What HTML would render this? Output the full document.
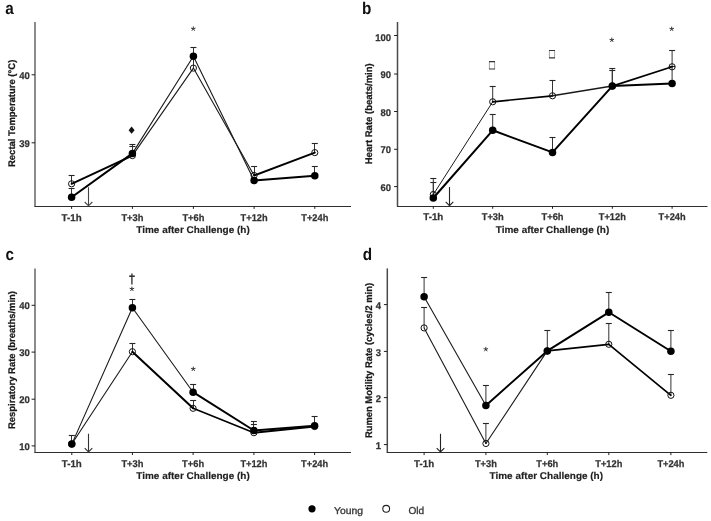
<!DOCTYPE html>
<html><head><meta charset="utf-8"><style>
html,body{margin:0;padding:0;background:#fff;}
body{width:711px;height:521px;overflow:hidden;font-family:"Liberation Sans", sans-serif;}
svg{display:block;filter:grayscale(1);}
</style></head><body>
<svg width="711" height="521" viewBox="0 0 711 521" text-rendering="geometricPrecision" font-family='"Liberation Sans", sans-serif'>
<rect width="711" height="521" fill="#fff"/>
<text x="5.20" y="13.80" font-size="17" font-weight="bold" text-anchor="start" fill="#111" textLength="8.51" lengthAdjust="spacingAndGlyphs" >a</text>
<path d="M35.00 22.00V206.30" fill="none" stroke="#6e6e6e" stroke-width="1.6"/>
<path d="M34.40 206.50H351.00" fill="none" stroke="#2e2e2e" stroke-width="1.2"/>
<path d="M31.60 74.80H35.00" stroke="#1e1e1e" stroke-width="1"/>
<text x="29.90" y="78.80" font-size="9.8" font-weight="bold" text-anchor="end" fill="#333" textLength="10.57" lengthAdjust="spacingAndGlyphs" stroke="#333" stroke-width="0.25">40</text>
<path d="M31.60 142.80H35.00" stroke="#1e1e1e" stroke-width="1"/>
<text x="29.90" y="146.80" font-size="9.8" font-weight="bold" text-anchor="end" fill="#333" textLength="10.57" lengthAdjust="spacingAndGlyphs" stroke="#333" stroke-width="0.25">39</text>
<path d="M71.60 206.30V208.90" stroke="#1e1e1e" stroke-width="1"/>
<text x="71.60" y="220.50" font-size="9.8" font-weight="bold" text-anchor="middle" fill="#333" textLength="20.0" lengthAdjust="spacingAndGlyphs" stroke="#333" stroke-width="0.25">T-1h</text>
<path d="M132.40 206.30V208.90" stroke="#1e1e1e" stroke-width="1"/>
<text x="132.40" y="220.50" font-size="9.8" font-weight="bold" text-anchor="middle" fill="#333" textLength="22.0" lengthAdjust="spacingAndGlyphs" stroke="#333" stroke-width="0.25">T+3h</text>
<path d="M193.40 206.30V208.90" stroke="#1e1e1e" stroke-width="1"/>
<text x="193.40" y="220.50" font-size="9.8" font-weight="bold" text-anchor="middle" fill="#333" textLength="22.0" lengthAdjust="spacingAndGlyphs" stroke="#333" stroke-width="0.25">T+6h</text>
<path d="M254.10 206.30V208.90" stroke="#1e1e1e" stroke-width="1"/>
<text x="254.10" y="220.50" font-size="9.8" font-weight="bold" text-anchor="middle" fill="#333" textLength="27.0" lengthAdjust="spacingAndGlyphs" stroke="#333" stroke-width="0.25">T+12h</text>
<path d="M314.80 206.30V208.90" stroke="#1e1e1e" stroke-width="1"/>
<text x="314.80" y="220.50" font-size="9.8" font-weight="bold" text-anchor="middle" fill="#333" textLength="27.0" lengthAdjust="spacingAndGlyphs" stroke="#333" stroke-width="0.25">T+24h</text>
<text x="193.00" y="233.00" font-size="9.8" font-weight="bold" text-anchor="middle" fill="#222" textLength="113.5" lengthAdjust="spacingAndGlyphs" stroke="#222" stroke-width="0.15">Time after Challenge (h)</text>
<text x="15.00" y="113.35" font-size="9.6" font-weight="bold" text-anchor="middle" fill="#1a1a1a" textLength="107.3" lengthAdjust="spacingAndGlyphs" transform="rotate(-90 15.00 113.35)" stroke="#1a1a1a" stroke-width="0.25">Rectal Temperature (°C)</text>
<path d="M88.50 187.30V205.80M84.70 202.00L88.50 205.80L92.30 202.00" fill="none" stroke="#444" stroke-width="1.1"/>
<path d="M71.50 197.20V188.50" fill="none" stroke="#333" stroke-width="1"/>
<path d="M68.60 188.50H74.60" fill="none" stroke="#262626" stroke-width="1.1"/>
<path d="M71.50 183.80V175.50" fill="none" stroke="#333" stroke-width="1"/>
<path d="M68.60 175.50H74.60" fill="none" stroke="#262626" stroke-width="1.1"/>
<path d="M132.50 153.40V146.50" fill="none" stroke="#333" stroke-width="1"/>
<path d="M129.40 146.50H135.40" fill="none" stroke="#262626" stroke-width="1.1"/>
<path d="M132.50 155.60V144.50" fill="none" stroke="#333" stroke-width="1"/>
<path d="M129.40 144.50H135.40" fill="none" stroke="#262626" stroke-width="1.1"/>
<path d="M193.50 56.30V47.50" fill="none" stroke="#333" stroke-width="1"/>
<path d="M190.40 47.50H196.40" fill="none" stroke="#262626" stroke-width="1.1"/>
<path d="M193.50 68.10V57.50" fill="none" stroke="#333" stroke-width="1"/>
<path d="M190.40 57.50H196.40" fill="none" stroke="#262626" stroke-width="1.1"/>
<path d="M254.50 175.50V166.50" fill="none" stroke="#333" stroke-width="1"/>
<path d="M251.10 166.50H257.10" fill="none" stroke="#262626" stroke-width="1.1"/>
<path d="M314.50 175.70V166.50" fill="none" stroke="#333" stroke-width="1"/>
<path d="M311.80 166.50H317.80" fill="none" stroke="#262626" stroke-width="1.1"/>
<path d="M314.50 152.60V143.50" fill="none" stroke="#333" stroke-width="1"/>
<path d="M311.80 143.50H317.80" fill="none" stroke="#262626" stroke-width="1.1"/>
<line x1="71.60" y1="183.80" x2="132.40" y2="155.60" stroke="#000" stroke-width="1.9" stroke-linecap="round"/>
<line x1="71.60" y1="197.20" x2="132.40" y2="153.40" stroke="#000" stroke-width="2.0" stroke-linecap="round"/>
<line x1="132.40" y1="155.60" x2="193.40" y2="68.10" stroke="#1a1a1a" stroke-width="1.1" stroke-linecap="round"/>
<line x1="132.40" y1="153.40" x2="193.40" y2="56.30" stroke="#1a1a1a" stroke-width="1.1" stroke-linecap="round"/>
<line x1="193.40" y1="68.10" x2="254.10" y2="175.50" stroke="#1a1a1a" stroke-width="1.1" stroke-linecap="round"/>
<line x1="193.40" y1="56.30" x2="254.10" y2="180.50" stroke="#1a1a1a" stroke-width="1.1" stroke-linecap="round"/>
<line x1="254.10" y1="175.50" x2="314.80" y2="152.60" stroke="#000" stroke-width="1.9" stroke-linecap="round"/>
<line x1="254.10" y1="180.50" x2="314.80" y2="175.70" stroke="#000" stroke-width="2.0" stroke-linecap="round"/>
<circle cx="71.60" cy="183.80" r="3.1" fill="none" stroke="#111" stroke-width="1"/>
<circle cx="71.60" cy="197.20" r="3.75" fill="#000"/>
<circle cx="132.40" cy="155.60" r="3.1" fill="none" stroke="#111" stroke-width="1"/>
<circle cx="132.40" cy="153.40" r="3.75" fill="#000"/>
<circle cx="193.40" cy="68.10" r="3.1" fill="none" stroke="#111" stroke-width="1"/>
<circle cx="193.40" cy="56.30" r="3.75" fill="#000"/>
<circle cx="254.10" cy="175.50" r="3.1" fill="none" stroke="#111" stroke-width="1"/>
<circle cx="254.10" cy="180.50" r="3.75" fill="#000"/>
<circle cx="314.80" cy="152.60" r="3.1" fill="none" stroke="#111" stroke-width="1"/>
<circle cx="314.80" cy="175.70" r="3.75" fill="#000"/>
<text x="362.00" y="13.80" font-size="17" font-weight="bold" text-anchor="start" fill="#111" textLength="9.35" lengthAdjust="spacingAndGlyphs" >b</text>
<path d="M397.50 22.00V206.20" fill="none" stroke="#4a4a4a" stroke-width="1.5"/>
<path d="M396.90 206.50H707.50" fill="none" stroke="#2e2e2e" stroke-width="1.2"/>
<path d="M394.10 35.50H397.50" stroke="#1e1e1e" stroke-width="1"/>
<text x="391.10" y="40.50" font-size="9.8" font-weight="bold" text-anchor="end" fill="#333" textLength="15.86" lengthAdjust="spacingAndGlyphs" stroke="#333" stroke-width="0.25">100</text>
<path d="M394.10 74.00H397.50" stroke="#1e1e1e" stroke-width="1"/>
<text x="391.10" y="78.00" font-size="9.8" font-weight="bold" text-anchor="end" fill="#333" textLength="10.57" lengthAdjust="spacingAndGlyphs" stroke="#333" stroke-width="0.25">90</text>
<path d="M394.10 111.50H397.50" stroke="#1e1e1e" stroke-width="1"/>
<text x="391.10" y="115.50" font-size="9.8" font-weight="bold" text-anchor="end" fill="#333" textLength="10.57" lengthAdjust="spacingAndGlyphs" stroke="#333" stroke-width="0.25">80</text>
<path d="M394.10 149.30H397.50" stroke="#1e1e1e" stroke-width="1"/>
<text x="391.10" y="153.30" font-size="9.8" font-weight="bold" text-anchor="end" fill="#333" textLength="10.57" lengthAdjust="spacingAndGlyphs" stroke="#333" stroke-width="0.25">70</text>
<path d="M394.10 186.60H397.50" stroke="#1e1e1e" stroke-width="1"/>
<text x="391.10" y="190.60" font-size="9.8" font-weight="bold" text-anchor="end" fill="#333" textLength="10.57" lengthAdjust="spacingAndGlyphs" stroke="#333" stroke-width="0.25">60</text>
<path d="M433.30 206.20V208.80" stroke="#1e1e1e" stroke-width="1"/>
<text x="433.30" y="220.40" font-size="9.8" font-weight="bold" text-anchor="middle" fill="#333" textLength="20.0" lengthAdjust="spacingAndGlyphs" stroke="#333" stroke-width="0.25">T-1h</text>
<path d="M492.70 206.20V208.80" stroke="#1e1e1e" stroke-width="1"/>
<text x="492.70" y="220.40" font-size="9.8" font-weight="bold" text-anchor="middle" fill="#333" textLength="22.0" lengthAdjust="spacingAndGlyphs" stroke="#333" stroke-width="0.25">T+3h</text>
<path d="M552.50 206.20V208.80" stroke="#1e1e1e" stroke-width="1"/>
<text x="552.50" y="220.40" font-size="9.8" font-weight="bold" text-anchor="middle" fill="#333" textLength="22.0" lengthAdjust="spacingAndGlyphs" stroke="#333" stroke-width="0.25">T+6h</text>
<path d="M612.30 206.20V208.80" stroke="#1e1e1e" stroke-width="1"/>
<text x="612.30" y="220.40" font-size="9.8" font-weight="bold" text-anchor="middle" fill="#333" textLength="27.0" lengthAdjust="spacingAndGlyphs" stroke="#333" stroke-width="0.25">T+12h</text>
<path d="M672.10 206.20V208.80" stroke="#1e1e1e" stroke-width="1"/>
<text x="672.10" y="220.40" font-size="9.8" font-weight="bold" text-anchor="middle" fill="#333" textLength="27.0" lengthAdjust="spacingAndGlyphs" stroke="#333" stroke-width="0.25">T+24h</text>
<text x="552.50" y="232.90" font-size="9.8" font-weight="bold" text-anchor="middle" fill="#222" textLength="113.5" lengthAdjust="spacingAndGlyphs" stroke="#222" stroke-width="0.15">Time after Challenge (h)</text>
<text x="371.50" y="113.75" font-size="9.6" font-weight="bold" text-anchor="middle" fill="#1a1a1a" textLength="101.0" lengthAdjust="spacingAndGlyphs" transform="rotate(-90 371.50 113.75)" stroke="#1a1a1a" stroke-width="0.25">Heart Rate (beats/min)</text>
<path d="M449.50 187.00V205.70M445.70 201.90L449.50 205.70L453.30 201.90" fill="none" stroke="#222" stroke-width="1.1"/>
<path d="M433.30 198.00V182.50" fill="none" stroke="#333" stroke-width="1"/>
<path d="M430.30 182.50H436.30" fill="none" stroke="#262626" stroke-width="1.1"/>
<path d="M433.30 194.50V178.50" fill="none" stroke="#333" stroke-width="1"/>
<path d="M430.30 178.50H436.30" fill="none" stroke="#262626" stroke-width="1.1"/>
<path d="M492.70 130.30V114.50" fill="none" stroke="#333" stroke-width="1"/>
<path d="M489.70 114.50H495.70" fill="none" stroke="#262626" stroke-width="1.1"/>
<path d="M492.70 101.80V86.50" fill="none" stroke="#333" stroke-width="1"/>
<path d="M489.70 86.50H495.70" fill="none" stroke="#262626" stroke-width="1.1"/>
<path d="M552.50 152.40V137.50" fill="none" stroke="#333" stroke-width="1"/>
<path d="M549.50 137.50H555.50" fill="none" stroke="#262626" stroke-width="1.1"/>
<path d="M552.50 95.80V80.50" fill="none" stroke="#333" stroke-width="1"/>
<path d="M549.50 80.50H555.50" fill="none" stroke="#262626" stroke-width="1.1"/>
<path d="M612.30 86.10V70.50" fill="none" stroke="#333" stroke-width="1"/>
<path d="M609.30 70.50H615.30" fill="none" stroke="#262626" stroke-width="1.1"/>
<path d="M612.30 86.10V68.50" fill="none" stroke="#333" stroke-width="1"/>
<path d="M609.30 68.50H615.30" fill="none" stroke="#262626" stroke-width="1.1"/>
<path d="M672.10 83.40V66.50" fill="none" stroke="#333" stroke-width="1"/>
<path d="M669.10 66.50H675.10" fill="none" stroke="#262626" stroke-width="1.1"/>
<path d="M672.10 66.80V50.50" fill="none" stroke="#333" stroke-width="1"/>
<path d="M669.10 50.50H675.10" fill="none" stroke="#262626" stroke-width="1.1"/>
<line x1="433.30" y1="194.50" x2="492.70" y2="101.80" stroke="#1a1a1a" stroke-width="1.0" stroke-linecap="round"/>
<line x1="433.30" y1="198.00" x2="492.70" y2="130.30" stroke="#000" stroke-width="2.0" stroke-linecap="round"/>
<line x1="492.70" y1="101.80" x2="552.50" y2="95.80" stroke="#000" stroke-width="1.7" stroke-linecap="round"/>
<line x1="492.70" y1="130.30" x2="552.50" y2="152.40" stroke="#000" stroke-width="2.0" stroke-linecap="round"/>
<line x1="552.50" y1="95.80" x2="612.30" y2="86.10" stroke="#1a1a1a" stroke-width="1.5" stroke-linecap="round"/>
<line x1="552.50" y1="152.40" x2="612.30" y2="86.10" stroke="#000" stroke-width="2.0" stroke-linecap="round"/>
<line x1="612.30" y1="86.10" x2="672.10" y2="66.80" stroke="#000" stroke-width="1.7" stroke-linecap="round"/>
<line x1="612.30" y1="86.10" x2="672.10" y2="83.40" stroke="#000" stroke-width="2.0" stroke-linecap="round"/>
<circle cx="433.30" cy="194.50" r="3.1" fill="none" stroke="#111" stroke-width="1"/>
<circle cx="433.30" cy="198.00" r="3.75" fill="#000"/>
<circle cx="492.70" cy="101.80" r="3.1" fill="none" stroke="#111" stroke-width="1"/>
<circle cx="492.70" cy="130.30" r="3.75" fill="#000"/>
<circle cx="552.50" cy="95.80" r="3.1" fill="none" stroke="#111" stroke-width="1"/>
<circle cx="552.50" cy="152.40" r="3.75" fill="#000"/>
<circle cx="612.30" cy="86.10" r="3.1" fill="none" stroke="#111" stroke-width="1"/>
<circle cx="612.30" cy="86.10" r="3.75" fill="#000"/>
<circle cx="672.10" cy="66.80" r="3.1" fill="none" stroke="#111" stroke-width="1"/>
<circle cx="672.10" cy="83.40" r="3.75" fill="#000"/>
<text x="5.50" y="260.40" font-size="17" font-weight="bold" text-anchor="start" fill="#111" textLength="8.51" lengthAdjust="spacingAndGlyphs" >c</text>
<path d="M35.00 268.40V452.40" fill="none" stroke="#6e6e6e" stroke-width="1.6"/>
<path d="M34.40 452.50H351.00" fill="none" stroke="#2e2e2e" stroke-width="1.2"/>
<path d="M31.60 305.30H35.00" stroke="#1e1e1e" stroke-width="1"/>
<text x="29.70" y="309.00" font-size="9.8" font-weight="bold" text-anchor="end" fill="#333" textLength="10.57" lengthAdjust="spacingAndGlyphs" stroke="#333" stroke-width="0.25">40</text>
<path d="M31.60 352.10H35.00" stroke="#1e1e1e" stroke-width="1"/>
<text x="29.70" y="355.80" font-size="9.8" font-weight="bold" text-anchor="end" fill="#333" textLength="10.57" lengthAdjust="spacingAndGlyphs" stroke="#333" stroke-width="0.25">30</text>
<path d="M31.60 399.20H35.00" stroke="#1e1e1e" stroke-width="1"/>
<text x="29.70" y="402.90" font-size="9.8" font-weight="bold" text-anchor="end" fill="#333" textLength="10.57" lengthAdjust="spacingAndGlyphs" stroke="#333" stroke-width="0.25">20</text>
<path d="M31.60 445.90H35.00" stroke="#1e1e1e" stroke-width="1"/>
<text x="29.70" y="449.60" font-size="9.8" font-weight="bold" text-anchor="end" fill="#333" textLength="10.57" lengthAdjust="spacingAndGlyphs" stroke="#333" stroke-width="0.25">10</text>
<path d="M71.80 452.40V455.00" stroke="#1e1e1e" stroke-width="1"/>
<text x="71.80" y="466.60" font-size="9.8" font-weight="bold" text-anchor="middle" fill="#333" textLength="20.0" lengthAdjust="spacingAndGlyphs" stroke="#333" stroke-width="0.25">T-1h</text>
<path d="M132.40 452.40V455.00" stroke="#1e1e1e" stroke-width="1"/>
<text x="132.40" y="466.60" font-size="9.8" font-weight="bold" text-anchor="middle" fill="#333" textLength="22.0" lengthAdjust="spacingAndGlyphs" stroke="#333" stroke-width="0.25">T+3h</text>
<path d="M193.10 452.40V455.00" stroke="#1e1e1e" stroke-width="1"/>
<text x="193.10" y="466.60" font-size="9.8" font-weight="bold" text-anchor="middle" fill="#333" textLength="22.0" lengthAdjust="spacingAndGlyphs" stroke="#333" stroke-width="0.25">T+6h</text>
<path d="M253.90 452.40V455.00" stroke="#1e1e1e" stroke-width="1"/>
<text x="253.90" y="466.60" font-size="9.8" font-weight="bold" text-anchor="middle" fill="#333" textLength="27.0" lengthAdjust="spacingAndGlyphs" stroke="#333" stroke-width="0.25">T+12h</text>
<path d="M314.60 452.40V455.00" stroke="#1e1e1e" stroke-width="1"/>
<text x="314.60" y="466.60" font-size="9.8" font-weight="bold" text-anchor="middle" fill="#333" textLength="27.0" lengthAdjust="spacingAndGlyphs" stroke="#333" stroke-width="0.25">T+24h</text>
<text x="193.00" y="479.10" font-size="9.8" font-weight="bold" text-anchor="middle" fill="#222" textLength="113.5" lengthAdjust="spacingAndGlyphs" stroke="#222" stroke-width="0.15">Time after Challenge (h)</text>
<text x="15.00" y="360.00" font-size="9.6" font-weight="bold" text-anchor="middle" fill="#1a1a1a" textLength="138.0" lengthAdjust="spacingAndGlyphs" transform="rotate(-90 15.00 360.00)" stroke="#1a1a1a" stroke-width="0.25">Respiratory Rate (breaths/min)</text>
<path d="M88.50 433.70V451.90M84.70 448.10L88.50 451.90L92.30 448.10" fill="none" stroke="#333" stroke-width="1.1"/>
<path d="M71.50 444.10V435.50" fill="none" stroke="#333" stroke-width="1"/>
<path d="M68.80 435.50H74.80" fill="none" stroke="#262626" stroke-width="1.1"/>
<path d="M132.50 307.70V299.50" fill="none" stroke="#333" stroke-width="1"/>
<path d="M129.40 299.50H135.40" fill="none" stroke="#262626" stroke-width="1.1"/>
<path d="M132.50 351.70V343.50" fill="none" stroke="#333" stroke-width="1"/>
<path d="M129.40 343.50H135.40" fill="none" stroke="#262626" stroke-width="1.1"/>
<path d="M193.50 392.20V384.50" fill="none" stroke="#333" stroke-width="1"/>
<path d="M190.10 384.50H196.10" fill="none" stroke="#262626" stroke-width="1.1"/>
<path d="M193.50 408.30V400.50" fill="none" stroke="#333" stroke-width="1"/>
<path d="M190.10 400.50H196.10" fill="none" stroke="#262626" stroke-width="1.1"/>
<path d="M253.50 430.50V421.50" fill="none" stroke="#333" stroke-width="1"/>
<path d="M250.90 421.50H256.90" fill="none" stroke="#262626" stroke-width="1.1"/>
<path d="M253.50 432.70V424.50" fill="none" stroke="#333" stroke-width="1"/>
<path d="M250.90 424.50H256.90" fill="none" stroke="#262626" stroke-width="1.1"/>
<path d="M314.50 425.80V416.50" fill="none" stroke="#333" stroke-width="1"/>
<path d="M311.60 416.50H317.60" fill="none" stroke="#262626" stroke-width="1.1"/>
<line x1="71.80" y1="444.00" x2="132.40" y2="351.70" stroke="#1a1a1a" stroke-width="1.1" stroke-linecap="round"/>
<line x1="71.80" y1="444.10" x2="132.40" y2="307.70" stroke="#1a1a1a" stroke-width="1.1" stroke-linecap="round"/>
<line x1="132.40" y1="351.70" x2="193.10" y2="408.30" stroke="#000" stroke-width="2.0" stroke-linecap="round"/>
<line x1="132.40" y1="307.70" x2="193.10" y2="392.20" stroke="#1a1a1a" stroke-width="1.1" stroke-linecap="round"/>
<line x1="193.10" y1="408.30" x2="253.90" y2="432.70" stroke="#000" stroke-width="1.7" stroke-linecap="round"/>
<line x1="193.10" y1="392.20" x2="253.90" y2="430.50" stroke="#000" stroke-width="2.0" stroke-linecap="round"/>
<line x1="253.90" y1="432.70" x2="314.60" y2="426.50" stroke="#000" stroke-width="2.0" stroke-linecap="round"/>
<line x1="253.90" y1="430.50" x2="314.60" y2="425.80" stroke="#000" stroke-width="2.0" stroke-linecap="round"/>
<circle cx="71.80" cy="444.00" r="3.1" fill="none" stroke="#111" stroke-width="1"/>
<circle cx="71.80" cy="444.10" r="3.75" fill="#000"/>
<circle cx="132.40" cy="351.70" r="3.1" fill="none" stroke="#111" stroke-width="1"/>
<circle cx="132.40" cy="307.70" r="3.75" fill="#000"/>
<circle cx="193.10" cy="408.30" r="3.1" fill="none" stroke="#111" stroke-width="1"/>
<circle cx="193.10" cy="392.20" r="3.75" fill="#000"/>
<circle cx="253.90" cy="432.70" r="3.1" fill="none" stroke="#111" stroke-width="1"/>
<circle cx="253.90" cy="430.50" r="3.75" fill="#000"/>
<circle cx="314.60" cy="426.50" r="3.1" fill="none" stroke="#111" stroke-width="1"/>
<circle cx="314.60" cy="425.80" r="3.75" fill="#000"/>
<text x="362.80" y="260.40" font-size="17" font-weight="bold" text-anchor="start" fill="#111" textLength="9.35" lengthAdjust="spacingAndGlyphs" >d</text>
<path d="M387.30 268.40V452.50" fill="none" stroke="#4a4a4a" stroke-width="1.5"/>
<path d="M386.70 452.50H707.30" fill="none" stroke="#2e2e2e" stroke-width="1.2"/>
<path d="M383.90 304.60H387.30" stroke="#1e1e1e" stroke-width="1"/>
<text x="381.00" y="309.00" font-size="9.8" font-weight="bold" text-anchor="end" fill="#333" textLength="5.29" lengthAdjust="spacingAndGlyphs" stroke="#333" stroke-width="0.25">4</text>
<path d="M383.90 351.40H387.30" stroke="#1e1e1e" stroke-width="1"/>
<text x="381.00" y="355.80" font-size="9.8" font-weight="bold" text-anchor="end" fill="#333" textLength="5.29" lengthAdjust="spacingAndGlyphs" stroke="#333" stroke-width="0.25">3</text>
<path d="M383.90 397.60H387.30" stroke="#1e1e1e" stroke-width="1"/>
<text x="381.00" y="402.00" font-size="9.8" font-weight="bold" text-anchor="end" fill="#333" textLength="5.29" lengthAdjust="spacingAndGlyphs" stroke="#333" stroke-width="0.25">2</text>
<path d="M383.90 444.60H387.30" stroke="#1e1e1e" stroke-width="1"/>
<text x="381.00" y="449.00" font-size="9.8" font-weight="bold" text-anchor="end" fill="#333" textLength="5.29" lengthAdjust="spacingAndGlyphs" stroke="#333" stroke-width="0.25">1</text>
<path d="M424.10 452.50V455.10" stroke="#1e1e1e" stroke-width="1"/>
<text x="424.10" y="466.70" font-size="9.8" font-weight="bold" text-anchor="middle" fill="#333" textLength="20.0" lengthAdjust="spacingAndGlyphs" stroke="#333" stroke-width="0.25">T-1h</text>
<path d="M485.90 452.50V455.10" stroke="#1e1e1e" stroke-width="1"/>
<text x="485.90" y="466.70" font-size="9.8" font-weight="bold" text-anchor="middle" fill="#333" textLength="22.0" lengthAdjust="spacingAndGlyphs" stroke="#333" stroke-width="0.25">T+3h</text>
<path d="M547.30 452.50V455.10" stroke="#1e1e1e" stroke-width="1"/>
<text x="547.30" y="466.70" font-size="9.8" font-weight="bold" text-anchor="middle" fill="#333" textLength="22.0" lengthAdjust="spacingAndGlyphs" stroke="#333" stroke-width="0.25">T+6h</text>
<path d="M608.80 452.50V455.10" stroke="#1e1e1e" stroke-width="1"/>
<text x="608.80" y="466.70" font-size="9.8" font-weight="bold" text-anchor="middle" fill="#333" textLength="27.0" lengthAdjust="spacingAndGlyphs" stroke="#333" stroke-width="0.25">T+12h</text>
<path d="M670.90 452.50V455.10" stroke="#1e1e1e" stroke-width="1"/>
<text x="670.90" y="466.70" font-size="9.8" font-weight="bold" text-anchor="middle" fill="#333" textLength="27.0" lengthAdjust="spacingAndGlyphs" stroke="#333" stroke-width="0.25">T+24h</text>
<text x="546.30" y="479.20" font-size="9.8" font-weight="bold" text-anchor="middle" fill="#222" textLength="113.5" lengthAdjust="spacingAndGlyphs" stroke="#222" stroke-width="0.15">Time after Challenge (h)</text>
<text x="371.50" y="360.50" font-size="9.6" font-weight="bold" text-anchor="middle" fill="#1a1a1a" textLength="155.2" lengthAdjust="spacingAndGlyphs" transform="rotate(-90 371.50 360.50)" stroke="#1a1a1a" stroke-width="0.25">Rumen Motility Rate (cycles/2 min)</text>
<path d="M440.50 433.70V452.00M436.70 448.20L440.50 452.00L444.30 448.20" fill="none" stroke="#222" stroke-width="1.1"/>
<path d="M424.10 296.80V277.50" fill="none" stroke="#333" stroke-width="1"/>
<path d="M421.10 277.50H427.10" fill="none" stroke="#262626" stroke-width="1.1"/>
<path d="M424.10 327.90V307.50" fill="none" stroke="#333" stroke-width="1"/>
<path d="M421.10 307.50H427.10" fill="none" stroke="#262626" stroke-width="1.1"/>
<path d="M485.90 405.40V385.50" fill="none" stroke="#333" stroke-width="1"/>
<path d="M482.90 385.50H488.90" fill="none" stroke="#262626" stroke-width="1.1"/>
<path d="M485.90 443.50V423.50" fill="none" stroke="#333" stroke-width="1"/>
<path d="M482.90 423.50H488.90" fill="none" stroke="#262626" stroke-width="1.1"/>
<path d="M547.30 350.90V330.50" fill="none" stroke="#333" stroke-width="1"/>
<path d="M544.30 330.50H550.30" fill="none" stroke="#262626" stroke-width="1.1"/>
<path d="M608.80 312.30V292.50" fill="none" stroke="#333" stroke-width="1"/>
<path d="M605.80 292.50H611.80" fill="none" stroke="#262626" stroke-width="1.1"/>
<path d="M608.80 344.30V323.50" fill="none" stroke="#333" stroke-width="1"/>
<path d="M605.80 323.50H611.80" fill="none" stroke="#262626" stroke-width="1.1"/>
<path d="M670.90 351.20V330.50" fill="none" stroke="#333" stroke-width="1"/>
<path d="M667.90 330.50H673.90" fill="none" stroke="#262626" stroke-width="1.1"/>
<path d="M670.90 395.30V374.50" fill="none" stroke="#333" stroke-width="1"/>
<path d="M667.90 374.50H673.90" fill="none" stroke="#262626" stroke-width="1.1"/>
<line x1="424.10" y1="327.90" x2="485.90" y2="443.50" stroke="#1a1a1a" stroke-width="1.1" stroke-linecap="round"/>
<line x1="424.10" y1="296.80" x2="485.90" y2="405.40" stroke="#1a1a1a" stroke-width="1.1" stroke-linecap="round"/>
<line x1="485.90" y1="443.50" x2="547.30" y2="350.90" stroke="#1a1a1a" stroke-width="1.1" stroke-linecap="round"/>
<line x1="485.90" y1="405.40" x2="547.30" y2="350.90" stroke="#000" stroke-width="2.0" stroke-linecap="round"/>
<line x1="547.30" y1="350.90" x2="608.80" y2="344.30" stroke="#000" stroke-width="1.8" stroke-linecap="round"/>
<line x1="547.30" y1="350.90" x2="608.80" y2="312.30" stroke="#000" stroke-width="2.0" stroke-linecap="round"/>
<line x1="608.80" y1="344.30" x2="670.90" y2="395.30" stroke="#000" stroke-width="1.7" stroke-linecap="round"/>
<line x1="608.80" y1="312.30" x2="670.90" y2="351.20" stroke="#000" stroke-width="1.9" stroke-linecap="round"/>
<circle cx="424.10" cy="327.90" r="3.1" fill="none" stroke="#111" stroke-width="1"/>
<circle cx="424.10" cy="296.80" r="3.75" fill="#000"/>
<circle cx="485.90" cy="443.50" r="3.1" fill="none" stroke="#111" stroke-width="1"/>
<circle cx="485.90" cy="405.40" r="3.75" fill="#000"/>
<circle cx="547.30" cy="350.90" r="3.1" fill="none" stroke="#111" stroke-width="1"/>
<circle cx="547.30" cy="350.90" r="3.75" fill="#000"/>
<circle cx="608.80" cy="344.30" r="3.1" fill="none" stroke="#111" stroke-width="1"/>
<circle cx="608.80" cy="312.30" r="3.75" fill="#000"/>
<circle cx="670.90" cy="395.30" r="3.1" fill="none" stroke="#111" stroke-width="1"/>
<circle cx="670.90" cy="351.20" r="3.75" fill="#000"/>
<path d="M193.30 28.80L193.30 26.80M193.30 28.80L195.20 28.18M193.30 28.80L194.48 30.42M193.30 28.80L192.12 30.42M193.30 28.80L191.40 28.18" stroke="#3a3a3a" stroke-width="1.0" stroke-linecap="round" fill="none"/>
<path d="M611.80 40.00L611.80 38.00M611.80 40.00L613.70 39.38M611.80 40.00L612.98 41.62M611.80 40.00L610.62 41.62M611.80 40.00L609.90 39.38" stroke="#3a3a3a" stroke-width="1.0" stroke-linecap="round" fill="none"/>
<path d="M671.70 29.00L671.70 27.00M671.70 29.00L673.60 28.38M671.70 29.00L672.88 30.62M671.70 29.00L670.52 30.62M671.70 29.00L669.80 28.38" stroke="#3a3a3a" stroke-width="1.0" stroke-linecap="round" fill="none"/>
<path d="M131.90 289.00L131.90 287.00M131.90 289.00L133.80 288.38M131.90 289.00L133.08 290.62M131.90 289.00L130.72 290.62M131.90 289.00L130.00 288.38" stroke="#3a3a3a" stroke-width="1.0" stroke-linecap="round" fill="none"/>
<path d="M193.30 369.00L193.30 367.00M193.30 369.00L195.20 368.38M193.30 369.00L194.48 370.62M193.30 369.00L192.12 370.62M193.30 369.00L191.40 368.38" stroke="#3a3a3a" stroke-width="1.0" stroke-linecap="round" fill="none"/>
<path d="M485.80 349.30L485.80 347.30M485.80 349.30L487.70 348.68M485.80 349.30L486.98 350.92M485.80 349.30L484.62 350.92M485.80 349.30L483.90 348.68" stroke="#3a3a3a" stroke-width="1.0" stroke-linecap="round" fill="none"/>
<path d="M131.6 126.6L134.6 130.2L131.6 133.8L128.6 130.2Z" fill="#111"/>
<path d="M131.9 273.4V284.6" stroke="#444" stroke-width="1.5"/>
<path d="M129.2 276.2H134.8" stroke="#333" stroke-width="1.6"/>
<path d="M489.40 61.60V69.00M494.60 61.60V69.00" stroke="#999" stroke-width="0.9"/>
<path d="M489.00 61.60H495.00M489.00 69.00H495.00" stroke="#333" stroke-width="1.2"/>
<path d="M549.40 50.50V57.90M554.60 50.50V57.90" stroke="#999" stroke-width="0.9"/>
<path d="M549.00 50.50H555.00M549.00 57.90H555.00" stroke="#333" stroke-width="1.2"/>
<circle cx="312.0" cy="508.8" r="3.6" fill="#000"/>
<text x="334.00" y="513.70" font-size="10" font-weight="normal" text-anchor="start" fill="#3a3a3a" textLength="29" lengthAdjust="spacingAndGlyphs" stroke="#3a3a3a" stroke-width="0.35">Young</text>
<circle cx="386.2" cy="508.8" r="3.4" fill="#fff" stroke="#222" stroke-width="1.1"/>
<text x="408.40" y="513.70" font-size="10" font-weight="normal" text-anchor="start" fill="#3a3a3a" textLength="15.7" lengthAdjust="spacingAndGlyphs" stroke="#3a3a3a" stroke-width="0.35">Old</text>
</svg>
</body></html>
